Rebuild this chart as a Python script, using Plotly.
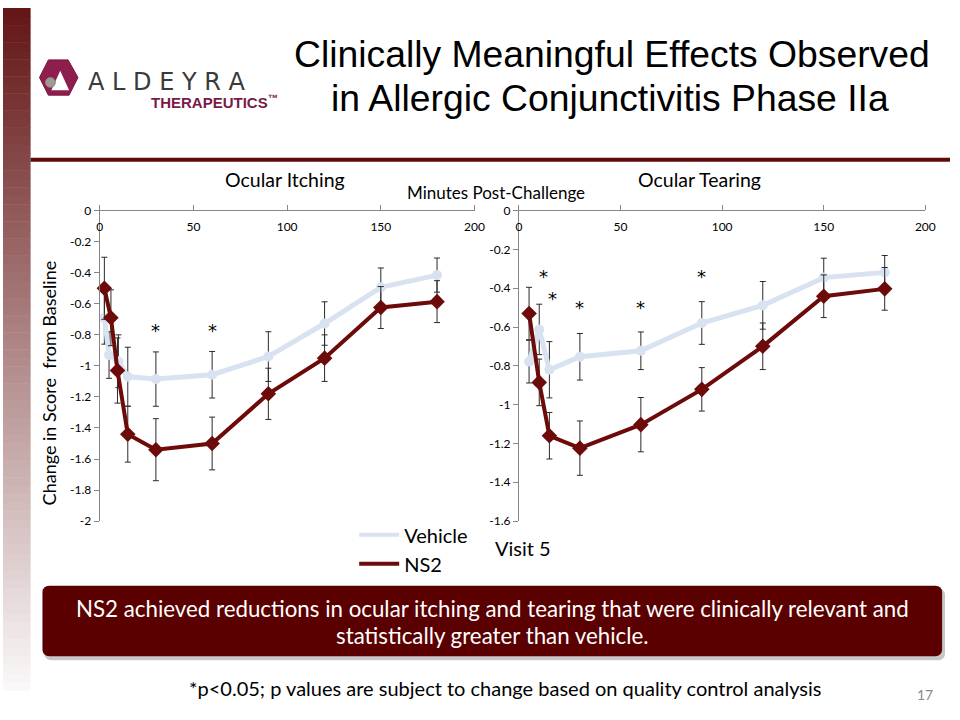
import plotly.graph_objects as go

W, H = 960, 720

# ---------------- data ----------------
itch_time_vehicle = [2.5, 5, 10, 15, 30, 60, 90, 120, 150, 180]
itch_vehicle = [-0.69, -0.93, -0.97, -1.07, -1.085, -1.057, -0.94, -0.727, -0.494, -0.415]
itch_vehicle_err = [0.17, 0.15, 0.17, 0.19, 0.175, 0.15, 0.16, 0.14, 0.125, 0.11]
itch_time_ns2 = [2.5, 6, 9.5, 15, 30, 60, 90, 120, 150, 180]
itch_ns2 = [-0.50, -0.69, -1.03, -1.44, -1.54, -1.50, -1.18, -0.95, -0.624, -0.586]
itch_ns2_err = [0.20, 0.18, 0.21, 0.18, 0.20, 0.17, 0.165, 0.15, 0.135, 0.135]

tear_time = [5, 10, 15, 30, 60, 90, 120, 150, 180]
tear_vehicle = [-0.778, -0.612, -0.82, -0.753, -0.722, -0.579, -0.488, -0.345, -0.318]
tear_vehicle_err = [0.11, 0.13, 0.145, 0.12, 0.097, 0.11, 0.123, 0.10, 0.087]
tear_ns2 = [-0.53, -0.885, -1.16, -1.224, -1.103, -0.921, -0.699, -0.441, -0.403]
tear_ns2_err = [0.135, 0.12, 0.12, 0.14, 0.14, 0.112, 0.12, 0.11, 0.11]

itch_sig_x = [30, 60]
itch_sig_y = [-0.76, -0.76]
tear_sig_x = [12, 16.5, 30, 60, 90]
tear_sig_y = [-0.33, -0.44, -0.49, -0.49, -0.33]

x_ticks = [0, 50, 100, 150, 200]
itch_y_ticks = [0, -0.2, -0.4, -0.6, -0.8, -1, -1.2, -1.4, -1.6, -1.8, -2]
itch_y_labels = ["0", "-0.2", "-0.4", "-0.6", "-0.8", "-1", "-1.2", "-1.4", "-1.6", "-1.8", "-2"]
tear_y_ticks = [0, -0.2, -0.4, -0.6, -0.8, -1, -1.2, -1.4, -1.6]
tear_y_labels = ["0", "-0.2", "-0.4", "-0.6", "-0.8", "-1", "-1.2", "-1.4", "-1.6"]

# ---------------- styles ----------------
VEH = "#d8e2f0"
NS2 = "#6d0b0b"
ERR = "#2a2a2a"
AX = "#868686"
FONT = "Lato, Carlito, 'Open Sans', sans-serif"
ARIAL = "Liberation Sans, Arial, sans-serif"


def px(x):
    return x / W


def py(y):
    return 1 - y / H


fig = go.Figure()


def add_series(xs, ys, errs, color, sym, size, lw, xa, ya):
    fig.add_trace(go.Scatter(
        x=xs, y=ys, mode="lines+markers", showlegend=False,
        line=dict(color=color, width=lw),
        marker=dict(symbol=sym, size=size, color=color),
        error_y=dict(type="data", array=errs, visible=True, color=ERR, thickness=1, width=3),
        xaxis=xa, yaxis=ya, cliponaxis=False, hoverinfo="skip",
    ))


add_series(itch_time_vehicle, itch_vehicle, itch_vehicle_err, VEH, "circle", 10, 5, "x", "y")
add_series(itch_time_ns2, itch_ns2, itch_ns2_err, NS2, "diamond", 12, 4, "x", "y")
add_series(tear_time, tear_vehicle, tear_vehicle_err, VEH, "circle", 10, 5, "x2", "y2")
add_series(tear_time, tear_ns2, tear_ns2_err, NS2, "diamond", 12, 4, "x2", "y2")

# legend-only entries (line only, as in the reference)
fig.add_trace(go.Scatter(x=[None], y=[None], mode="lines", name="Vehicle",
                         line=dict(color=VEH, width=4), xaxis="x", yaxis="y"))
fig.add_trace(go.Scatter(x=[None], y=[None], mode="lines", name="NS2",
                         line=dict(color=NS2, width=4), xaxis="x", yaxis="y"))
# empty traces so the label-only x axes get drawn
fig.add_trace(go.Scatter(x=[None], y=[None], mode="lines", showlegend=False,
                         xaxis="x3", yaxis="y", hoverinfo="skip"))
fig.add_trace(go.Scatter(x=[None], y=[None], mode="lines", showlegend=False,
                         xaxis="x4", yaxis="y2", hoverinfo="skip"))

tickfont = dict(family=FONT, size=12, color="#000")
xcommon = dict(range=[0, 200], side="top", showline=True, linecolor=AX, linewidth=1,
               ticks="outside", ticklen=5, tickcolor=AX, tickvals=x_ticks,
               showticklabels=False, showgrid=False, zeroline=False, fixedrange=True)
# label-only overlay axes (labels sit just below the top axis line)
xlabels = dict(range=[0, 200], side="top", showline=False, ticks="", tickvals=x_ticks,
               showgrid=False, zeroline=False, fixedrange=True, anchor="free",
               position=py(230), tickfont=tickfont, ticklabeloverflow="allow")
ycommon = dict(showline=True, linecolor=AX, linewidth=1, ticks="outside", ticklen=5,
               tickcolor=AX, showgrid=False, zeroline=False,
               tickfont=tickfont, fixedrange=True)

fig.update_layout(
    width=W, height=H, autosize=False,
    margin=dict(l=0, r=0, t=0, b=0),
    paper_bgcolor="white", plot_bgcolor="rgba(0,0,0,0)",
    font=dict(family=FONT, color="#000"),
    xaxis=dict(domain=[px(98), px(478)], anchor="y", **xcommon),
    yaxis=dict(domain=[py(524), py(207)], anchor="x", range=[-2, 0],
               tickvals=itch_y_ticks, ticktext=itch_y_labels, **ycommon),
    xaxis2=dict(domain=[px(523), px(935)], anchor="y2", **xcommon),
    yaxis2=dict(domain=[py(524), py(207)], anchor="x2", range=[-1.6, 0],
                tickvals=tear_y_ticks, ticktext=tear_y_labels, **ycommon),
    xaxis3=dict(domain=[px(98), px(478)], overlaying="x", **xlabels),
    xaxis4=dict(domain=[px(523), px(935)], overlaying="x2", **xlabels),
    legend=dict(x=px(356), y=py(518), xanchor="left", yanchor="top",
                bgcolor="rgba(0,0,0,0)", font=dict(family=FONT, size=20, color="#000"),
                tracegroupgap=0, itemwidth=40),
    showlegend=True,
)

shapes = []
# left gradient bar
n = 80
top_c = (100, 22, 22)
bot_c = (250, 248, 248)
bar_h = 697
for i in range(n):
    t = i / (n - 1)
    c = tuple(int(round(top_c[k] + (bot_c[k] - top_c[k]) * t)) for k in range(3))
    y0 = bar_h * i / n
    y1 = bar_h * (i + 1) / n + 0.5
    shapes.append(dict(type="rect", xref="paper", yref="paper", x0=px(0), x1=px(28),
                       y0=py(y1), y1=py(y0), line=dict(width=0),
                       fillcolor="rgb(%d,%d,%d)" % c, layer="below"))
# header rule
shapes.append(dict(type="rect", xref="paper", yref="paper", x0=px(28), x1=px(960),
                   y0=py(157), y1=py(153), line=dict(width=0), fillcolor="#5c0a0a"))


def rounded_rect_path(x0, y0, x1, y1, r):
    pts = [
        "M %f,%f" % (px(x0 + r), py(y0)),
        "L %f,%f" % (px(x1 - r), py(y0)),
        "Q %f,%f %f,%f" % (px(x1), py(y0), px(x1), py(y0 + r)),
        "L %f,%f" % (px(x1), py(y1 - r)),
        "Q %f,%f %f,%f" % (px(x1), py(y1), px(x1 - r), py(y1)),
        "L %f,%f" % (px(x0 + r), py(y1)),
        "Q %f,%f %f,%f" % (px(x0), py(y1), px(x0), py(y1 - r)),
        "L %f,%f" % (px(x0), py(y0 + r)),
        "Q %f,%f %f,%f" % (px(x0), py(y0), px(x0 + r), py(y0)),
        "Z",
    ]
    return " ".join(pts)


# box shadow + box
shapes.append(dict(type="path", xref="paper", yref="paper",
                   path=rounded_rect_path(42, 593, 955, 666, 7),
                   fillcolor="rgba(0,0,0,0.22)", line=dict(width=0)))
shapes.append(dict(type="path", xref="paper", yref="paper",
                   path=rounded_rect_path(40, 590, 952, 662, 7),
                   fillcolor="#5b0000", line=dict(width=0)))

# logo: hexagon with triangle cut and grey sphere
hexpts = [(37, 71), (46, 53), (66, 53), (76, 71), (67, 89), (46, 89)]
hexpath = "M " + " L ".join("%f,%f" % (px(a), py(b)) for a, b in hexpts) + " Z"
shapes.append(dict(type="path", xref="paper", yref="paper", path=hexpath,
                   fillcolor="#8e1e4e", line=dict(color="#7a1542", width=1)))
tri = [(49, 84), (58, 64), (67, 84)]
tripath = "M " + " L ".join("%f,%f" % (px(a), py(b)) for a, b in tri) + " Z"
shapes.append(dict(type="path", xref="paper", yref="paper", path=tripath,
                   fillcolor="white", line=dict(width=0)))
shapes.append(dict(type="circle", xref="paper", yref="paper", x0=px(43), x1=px(53),
                   y0=py(81), y1=py(71), fillcolor="#a09a94", line=dict(color="#8a847e", width=1)))

fig.update_layout(shapes=shapes)

ann = []


def text(x, y, s, size, color="#000", family=FONT, xanchor="center", angle=0, bold=False):
    if bold:
        s = "<b>%s</b>" % s
    ann.append(dict(x=px(x), y=py(y), xref="paper", yref="paper", text=s, showarrow=False,
                    font=dict(family=family, size=size, color=color), xanchor=xanchor,
                    yanchor="middle", textangle=angle))


text(617, 47, "Clinically Meaningful Effects Observed", 37.3, family=ARIAL)
text(615, 92, "in Allergic Conjunctivitis Phase IIa", 37.3, family=ARIAL)
text(84, 76, "A L D E Y R A", 24, color="#3a3a3a", family="DejaVu Sans, sans-serif", xanchor="left")
text(148, 95, "THERAPEUTICS<sup>™</sup>", 15, color="#7a1a48", family=ARIAL, xanchor="left", bold=True)

text(285.5, 175, "Ocular Itching", 19.5)
text(706, 175, "Ocular Tearing", 19.5)
text(500, 188, "Minutes Post-Challenge", 17)
text(47, 383, "Change in Score  from Baseline", 18, angle=-90)
text(497, 551, "Visit 5", 20, xanchor="left")

text(496, 613, "NS2 achieved reductions in ocular itching and tearing that were clinically relevant and", 22.3, color="white")
text(496, 641, "statistically greater than vehicle.", 22.3, color="white")
text(509, 694, "*p<0.05; p values are subject to change based on quality control analysis", 20)
text(935, 701, "17", 14, color="#8a8a8a")

for xs, ys, xr, yr in [(itch_sig_x, itch_sig_y, "x", "y"), (tear_sig_x, tear_sig_y, "x2", "y2")]:
    for a, b in zip(xs, ys):
        ann.append(dict(x=a, y=b, xref=xr, yref=yr, text="*", showarrow=False,
                        font=dict(family="DejaVu Sans, sans-serif", size=18, color="#000"),
                        yshift=-2))

fig.update_layout(annotations=ann)

fig.write_html(
    "out.html", config={"displayModeBar": False},
    post_script=("document.documentElement.style.margin='0px';"
                 "document.documentElement.style.overflow='hidden';"
                 "document.body.style.margin='0px';document.body.style.padding='0px';"
                 "document.body.style.overflow='hidden';"),
)
